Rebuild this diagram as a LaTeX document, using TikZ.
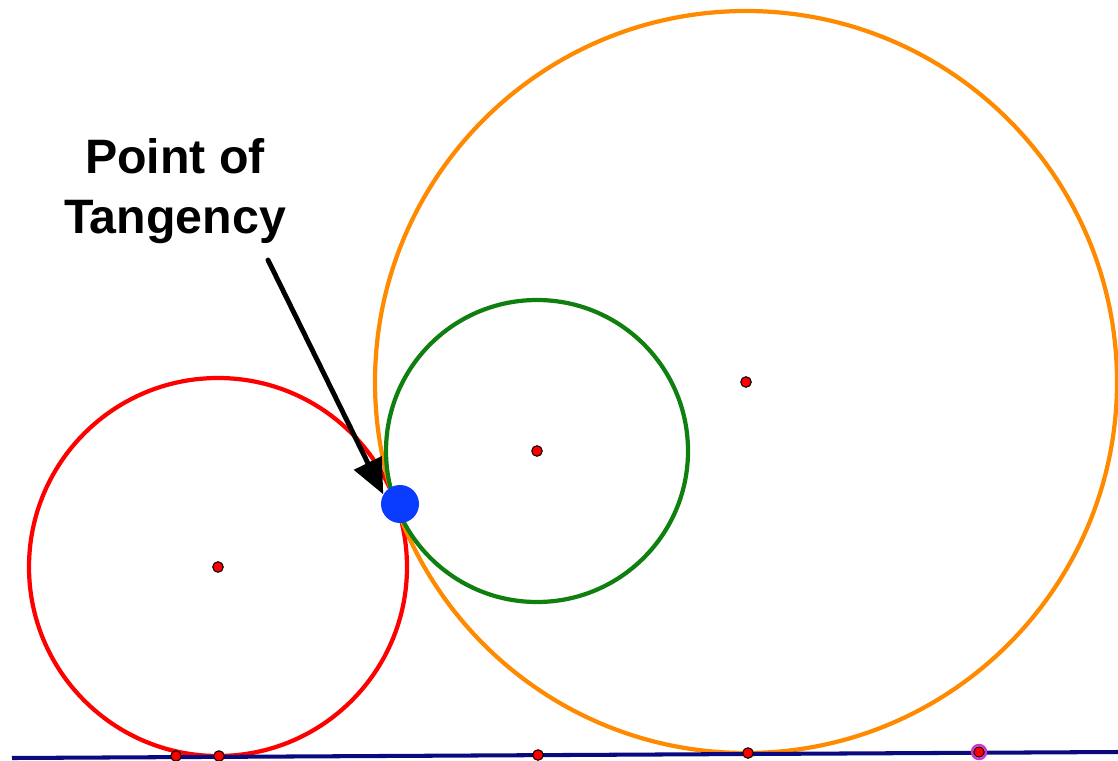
\documentclass[tikz,border=0pt]{standalone}
\usepackage{fontspec}
\setsansfont{Liberation Sans}
\usepackage{xcolor}
\usepackage{tikz}
\usetikzlibrary{arrows.meta,positioning,calc}
\definecolor{circred}{HTML}{FF0000}
\definecolor{circgreen}{HTML}{0F800F}
\definecolor{circorange}{HTML}{FF8A00}
\definecolor{tanblue}{HTML}{0A3CFF}
\definecolor{linenavy}{HTML}{0A0A80}
\definecolor{ptmagenta}{HTML}{CC33CC}
\newlength{\unitpx}
\setlength{\unitpx}{0.02cm}
\tikzset{
    every picture/.style={line cap=round,line join=round},
    circline/.style={line width=2.4pt},
    centerdot/.style={circle,draw=black,fill=red,line width=0.6pt,
      minimum size=6pt,inner sep=0pt},
    tangdot/.style={circle,fill=tanblue,minimum size=38\unitpx,inner sep=0pt},
    pointer/.style={-{Triangle[length=7mm,width=6mm]},draw=black,
      line width=2.8pt},
    bigtext/.style={font=\sffamily\bfseries\fontsize{27.5}{34}\selectfont,
      align=center}
}

\begin{document}
\begin{tikzpicture}[x=0.02cm,y=-0.02cm]
  \useasboundingbox (0,0) rectangle (1118,760);
  % centres
  \node[centerdot] (cred) at (218,567) {};
  \node[centerdot] (cgreen) at (537,451) {};
  \node[centerdot] (corange) at (746,382) {};
  % circles
  \draw[circline,circred] (cred) circle[radius=189];
  \draw[circline,circorange] (corange) circle[radius=371];
  \draw[circline,circgreen] (cgreen) circle[radius=151];
  % base line
  \coordinate (lineL) at (12,758);
  \coordinate (lineR) at (1118,752);
  \draw[linenavy,line width=2.3pt,line cap=butt] (lineL) -- (lineR);
  \node[centerdot] (p1) at (176,756) {};
  \node[centerdot] (p2) at (219,756) {};
  \node[centerdot] (p3) at (538,755) {};
  \node[centerdot] (p4) at (748,753) {};
  \node[centerdot] (p5) at (979,752) {};
  \draw[ptmagenta,line width=1.4pt] (p5) circle[radius=7];
  % label and pointer
  \node[bigtext] (label) at (175,191) {Point of\\Tangency};
  \node[tangdot] (tang) at (400,504) {};
  \coordinate (tail) at (268,260);
  \draw[pointer] (tail) -- (tang.150);
\end{tikzpicture}
\end{document}
